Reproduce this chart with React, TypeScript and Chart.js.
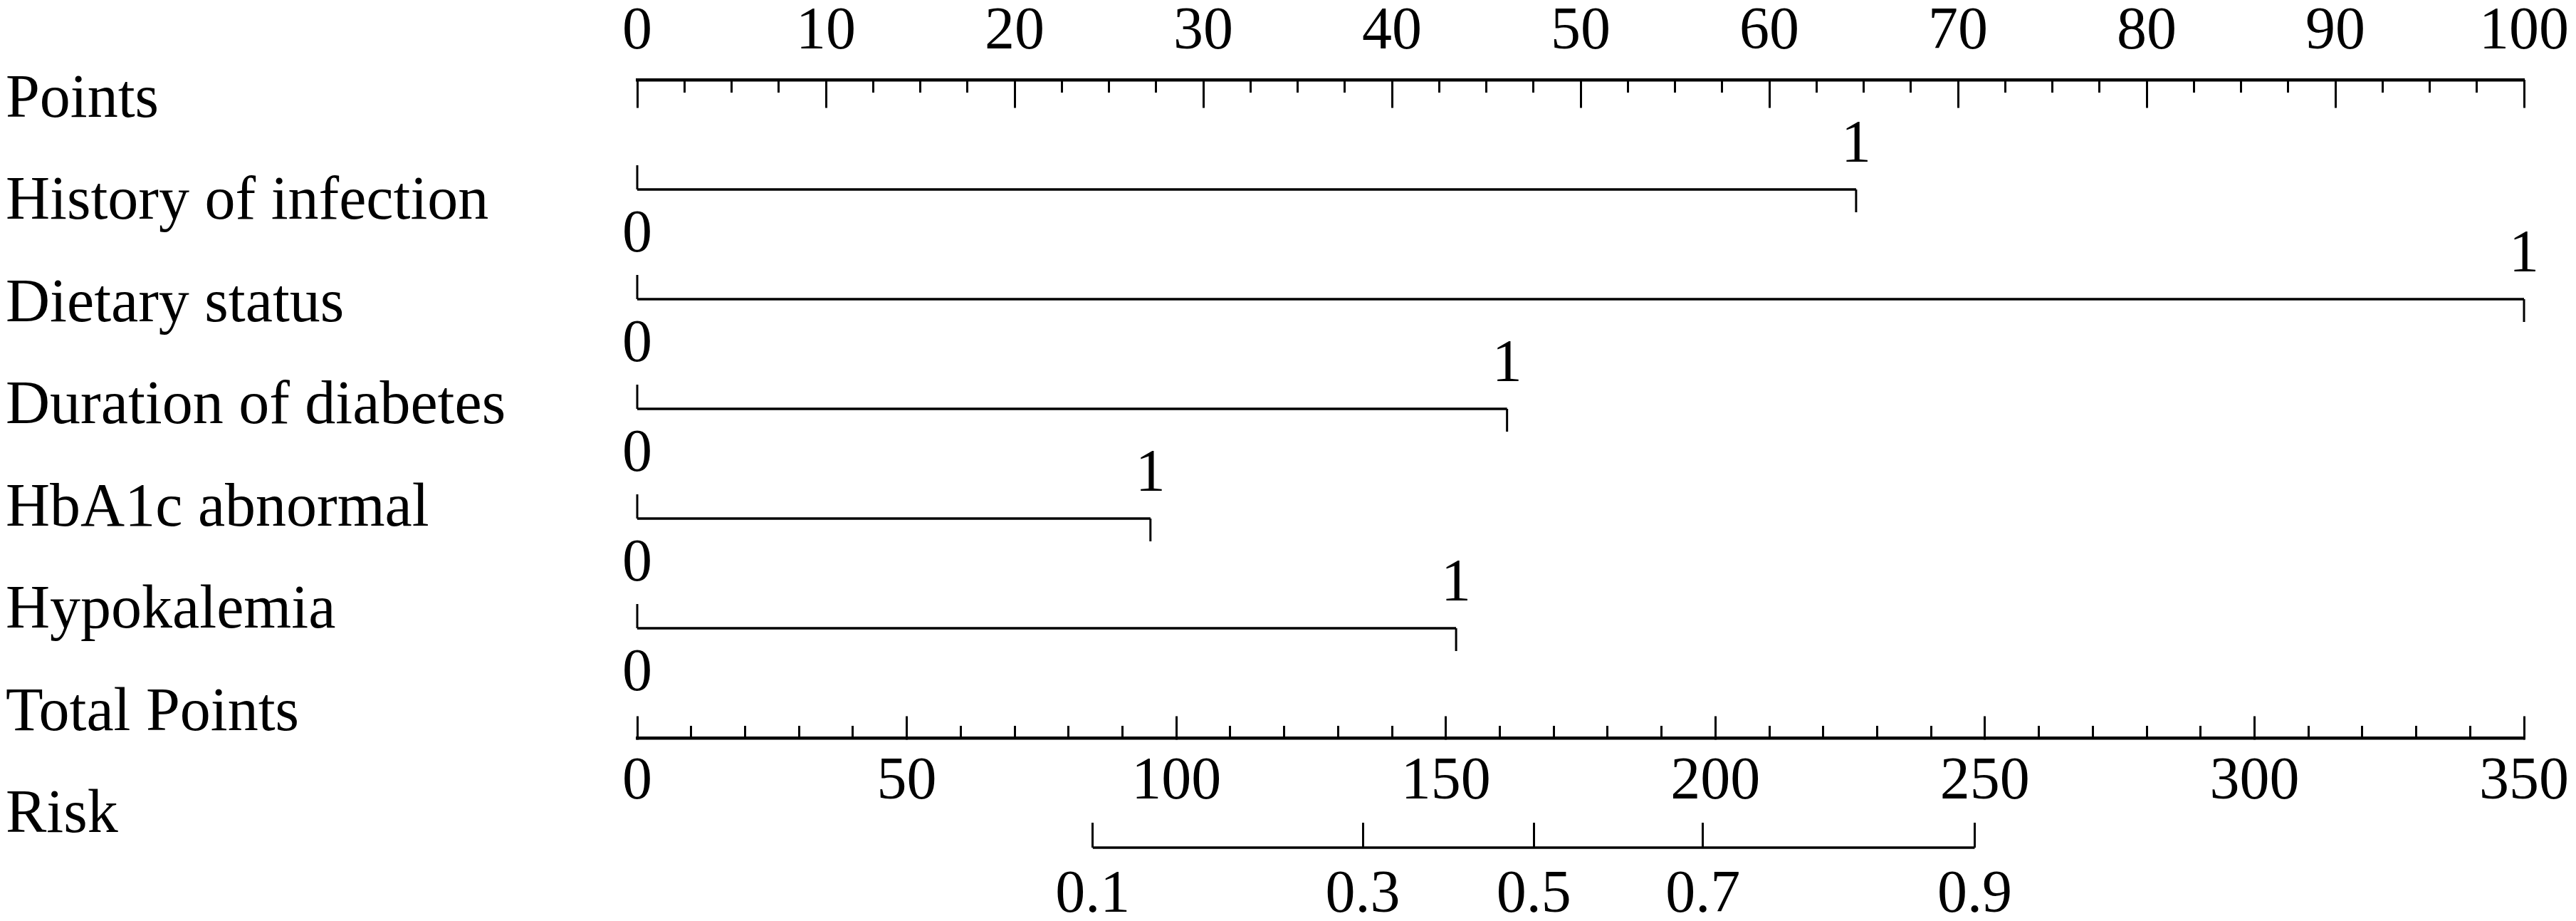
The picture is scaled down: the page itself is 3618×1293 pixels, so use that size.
import React, { useEffect, useRef } from "react";
import { Chart, registerables } from "chart.js";

Chart.register(...registerables);

// ---------- data ----------
const rowLabels = [
  "Points",
  "History of infection",
  "Dietary status",
  "Duration of diabetes",
  "HbA1c abnormal",
  "Hypokalemia",
  "Total Points",
  "Risk",
];
const variableNames = [
  "History of infection",
  "Dietary status",
  "Duration of diabetes",
  "HbA1c abnormal",
  "Hypokalemia",
];
const levelLabels = ["0", "1"];
const historyPoints = [0, 64.6];
const dietaryPoints = [0, 100];
const durationPoints = [0, 46.1];
const hba1cPoints = [0, 27.2];
const hypokalemiaPoints = [0, 43.4];
const variablePoints = [historyPoints, dietaryPoints, durationPoints, hba1cPoints, hypokalemiaPoints];

const pointsMin = 0;
const pointsMax = 100;
const pointsMajorStep = 10;
const pointsMinorStep = 2.5;
const totalMin = 0;
const totalMax = 350;
const totalMajorStep = 50;
const totalMinorStep = 10;
const riskLabels = ["0.1", "0.3", "0.5", "0.7", "0.9"];
const riskTotalPoints = [84.5, 134.6, 166.3, 197.7, 248.1];

// ---------- styles ----------
const FONT = "'Liberation Serif', 'Times New Roman', serif";
const TICK_FONT_SIZE = 84;
const NAME_FONT_SIZE = 86;

const zeroPad = (s: any) => {
  s.paddingLeft = 0;
  s.paddingRight = 0;
};

const nomogramPlugin = {
  id: "nomogramMarks",
  afterDatasetsDraw(chart: any) {
    const { ctx } = chart;
    const xs = chart.scales.x;
    const ys = chart.scales.y;
    const yl = chart.scales.yLab;
    ctx.save();
    ctx.fillStyle = "#000";
    ctx.strokeStyle = "#000";
    // row names
    ctx.font = `${NAME_FONT_SIZE}px ${FONT}`;
    ctx.textAlign = "left";
    ctx.textBaseline = "alphabetic";
    rowLabels.forEach((name, i) => {
      ctx.fillText(name, 8, yl.getPixelForValue(i));
    });
    // level ticks and labels
    ctx.font = `${TICK_FONT_SIZE}px ${FONT}`;
    ctx.textAlign = "center";
    ctx.lineWidth = 3;
    variablePoints.forEach((pts, i) => {
      const py = ys.getPixelForValue(i + 1);
      pts.forEach((v, j) => {
        const px = xs.getPixelForValue(v);
        const labelBelow = j % 2 === 0;
        ctx.beginPath();
        ctx.moveTo(px, py);
        ctx.lineTo(px, labelBelow ? py - 34 : py + 32);
        ctx.stroke();
        ctx.fillText(levelLabels[j], px, labelBelow ? py + 87 : py - 39);
      });
    });
    ctx.restore();
  },
};

export default function App() {
  const canvasRef = useRef<HTMLCanvasElement | null>(null);

  useEffect(() => {
    document.body.style.margin = "0";
    document.body.style.overflow = "hidden";
    const canvas = canvasRef.current;
    if (!canvas) return;

    const tickFont = { family: FONT, size: TICK_FONT_SIZE };
    const black = "#000";

    const datasets: any[] = variablePoints.map((pts, i) => ({
      label: variableNames[i],
      data: pts.map((v) => ({ x: v, y: i + 1 })),
      xAxisID: "x",
      yAxisID: "y",
      showLine: true,
      borderColor: black,
      borderWidth: 3.5,
      pointRadius: 0,
    }));
    datasets.push({
      label: "Risk",
      data: [
        { x: riskTotalPoints[0], y: 7 },
        { x: riskTotalPoints[riskTotalPoints.length - 1], y: 7 },
      ],
      xAxisID: "xRisk",
      yAxisID: "y",
      showLine: true,
      borderColor: black,
      borderWidth: 3.5,
      pointRadius: 0,
    });

    const chart = new Chart(canvas, {
      type: "scatter",
      data: { datasets },
      plugins: [nomogramPlugin],
      options: {
        animation: false,
        responsive: false,
        devicePixelRatio: 1,
        events: [],
        layout: { padding: { left: 895, right: 73, top: 0, bottom: 0 } },
        plugins: { legend: { display: false }, tooltip: { enabled: false }, title: { display: false } },
        scales: {
          y: { type: "linear", axis: "y", display: false, reverse: true, min: -0.7273, max: 7.6688 },
          yLab: { type: "linear", axis: "y", display: false, reverse: true, min: -1.1434, max: 7.8716 },
          x: {
            type: "linear",
            axis: "x",
            position: { y: 0 },
            min: pointsMin,
            max: pointsMax,
            ticks: { stepSize: pointsMajorStep, padding: -153, font: tickFont, color: black, autoSkip: false, maxRotation: 0 },
            grid: { drawOnChartArea: false, tickLength: 37, tickWidth: 3, tickColor: black },
            border: { display: true, width: 4.5, color: black },
            afterFit: zeroPad,
          },
          xMinor: {
            type: "linear",
            axis: "x",
            position: { y: 0 },
            min: pointsMin,
            max: pointsMax,
            ticks: { stepSize: pointsMinorStep, display: false },
            grid: { drawOnChartArea: false, tickLength: 18, tickWidth: 3, tickColor: black },
            border: { display: false },
            afterFit: zeroPad,
          },
          xTotal: {
            type: "linear",
            axis: "x",
            position: { y: 6 },
            min: totalMin,
            max: totalMax,
            ticks: { stepSize: totalMajorStep, padding: 46, font: tickFont, color: black, autoSkip: false, maxRotation: 0 },
            grid: { drawOnChartArea: false, tickLength: -33, tickWidth: 3, tickColor: black },
            border: { display: true, width: 4.5, color: black },
            afterFit: zeroPad,
          },
          xTotalMinor: {
            type: "linear",
            axis: "x",
            position: { y: 6 },
            min: totalMin,
            max: totalMax,
            ticks: { stepSize: totalMinorStep, display: false },
            grid: { drawOnChartArea: false, tickLength: -17, tickWidth: 3, tickColor: black },
            border: { display: false },
            afterFit: zeroPad,
          },
          xRisk: {
            type: "linear",
            axis: "x",
            position: { y: 7 },
            min: totalMin,
            max: totalMax,
            afterBuildTicks: (s: any) => {
              s.ticks = riskTotalPoints.map((v) => ({ value: v }));
            },
            ticks: {
              padding: 53,
              font: tickFont,
              color: black,
              autoSkip: false,
              maxRotation: 0,
              callback: (_v: any, i: number) => riskLabels[i],
            },
            grid: { drawOnChartArea: false, tickLength: -35, tickWidth: 3, tickColor: black },
            border: { display: false },
            afterFit: zeroPad,
          },
        } as any,
      },
    });

    return () => chart.destroy();
  }, []);

  return (
    <div style={{ width: 3618, height: 1293, background: "#fff" }}>
      <canvas ref={canvasRef} width={3618} height={1293} style={{ display: "block" }} />
    </div>
  );
}
